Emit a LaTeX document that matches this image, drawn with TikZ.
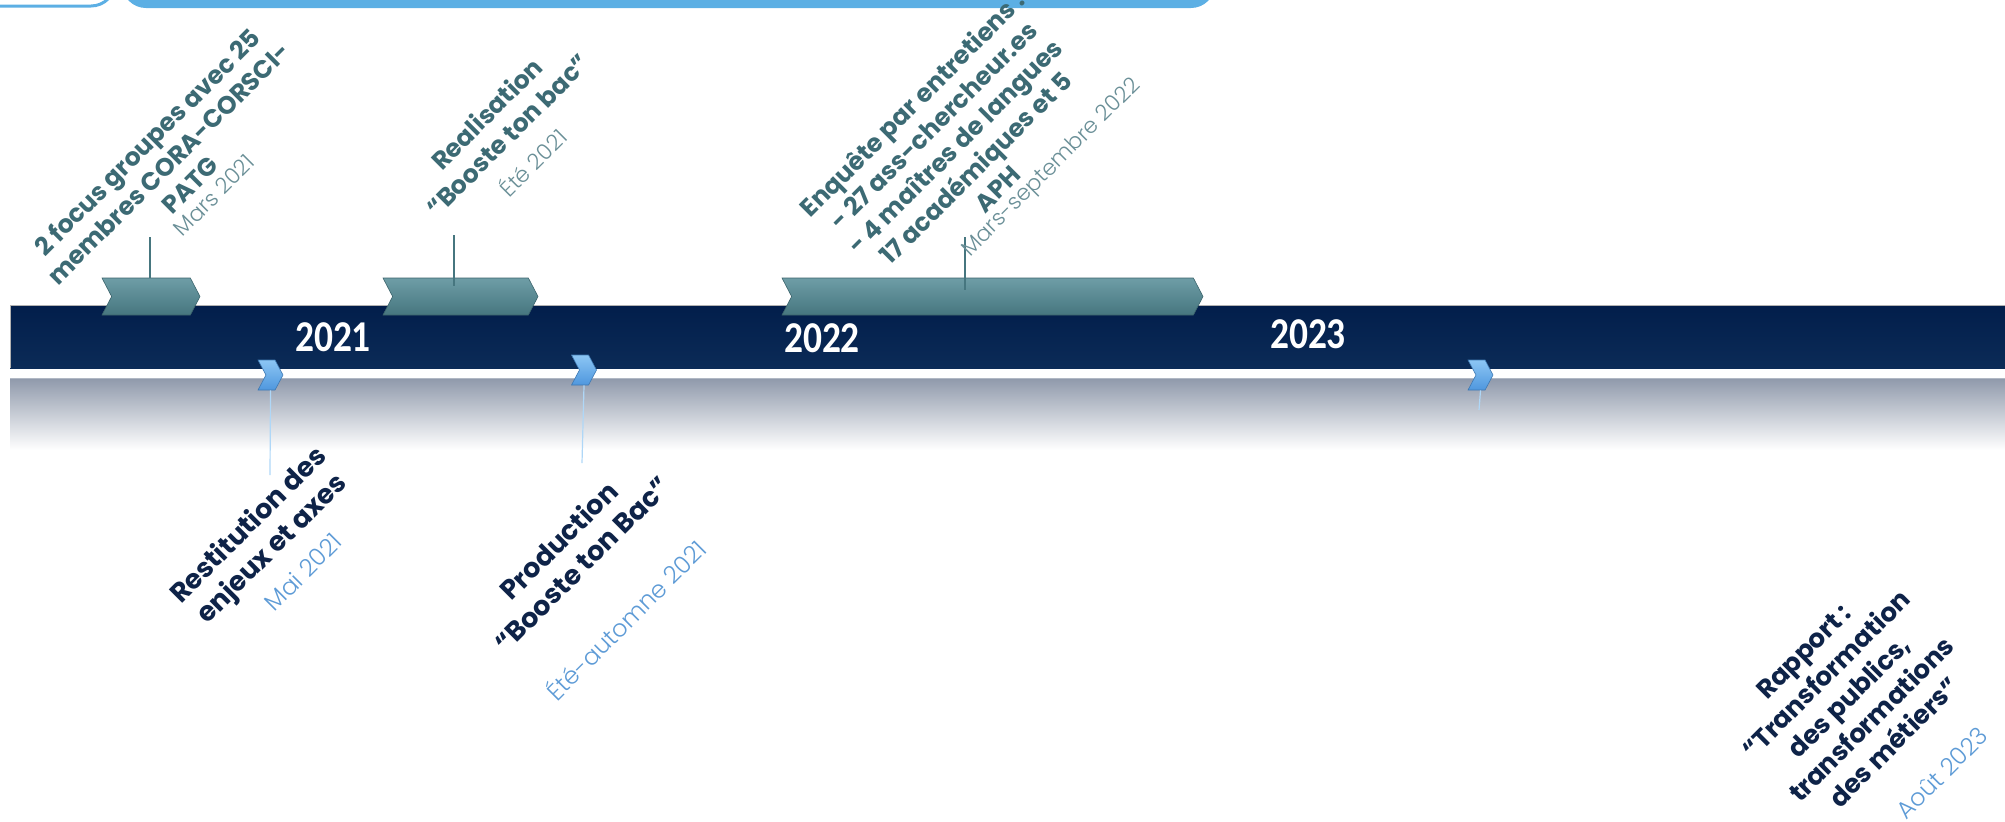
\documentclass[tikz,border=0pt]{standalone}
\usepackage{fontspec}
\setmainfont{Poppins}
\newfontfamily\lightfont{Poppins}[UprightFont={* Light}]
\newfontfamily\yearfont{Carlito}[FakeStretch=0.85]
\usetikzlibrary{shapes.symbols,positioning}

\definecolor{navytop}{HTML}{021E4B}
\definecolor{navybot}{HTML}{0B2B57}
\definecolor{tealtxt}{HTML}{3C6A74}
\definecolor{tealdate}{HTML}{6A8F97}
\definecolor{navytxt}{HTML}{0E2348}
\definecolor{bluedate}{HTML}{5E9BD6}
\definecolor{skyfill}{HTML}{5CAFE4}
\definecolor{tealhi}{HTML}{6E9DA6}
\definecolor{tealmid}{HTML}{46767F}
\definecolor{chevhi}{HTML}{8CC6F4}
\definecolor{chevlo}{HTML}{4F97DE}
\definecolor{haze}{HTML}{8F99AB}

\tikzset{
  upchev/.style={shape=signal,signal to=east,signal from=west,
    signal pointer angle=125,minimum height=18.5pt,inner sep=0pt,
    draw=tealmid!85!black,line width=0.3pt,top color=tealhi,bottom color=tealmid},
  lowchev/.style={shape=signal,signal to=east,signal from=west,
    signal pointer angle=124,minimum height=15pt,minimum width=12.5pt,inner sep=0pt,
    draw=chevlo!80!black,line width=0.3pt,top color=chevhi,bottom color=chevlo},
  upline/.style={draw=tealmid,line width=0.6pt},
  lowline/.style={draw=chevhi!70!white,line width=0.6pt},
  uplabel/.style={rotate=45,align=center,text=tealtxt,inner sep=0pt,
    font=\bfseries\fontsize{12.5}{15}\selectfont},
  update/.style={rotate=45,text=tealdate,inner sep=0pt,
    font=\lightfont\fontsize{11}{13}\selectfont},
  lowlabel/.style={rotate=45,align=center,text=navytxt,inner sep=0pt,
    font=\bfseries\fontsize{13.5}{16.5}\selectfont},
  lowdate/.style={rotate=45,text=bluedate,inner sep=0pt,
    font=\lightfont\fontsize{12}{14}\selectfont},
  year/.style={text=white,inner sep=0pt,font=\yearfont\bfseries\fontsize{22}{22}\selectfont}
}

\begin{document}
\begin{tikzpicture}[x=0.5pt,y=-0.5pt]
\useasboundingbox (0,0) rectangle (2005,821);
\clip (0,0) rectangle (2005,821);

\draw[skyfill,line width=1.5pt,rounded corners=12pt] (-60,-80) rectangle (115,6);
\fill[skyfill,rounded corners=12pt] (122,-80) rectangle (1215,8);

\shade[top color=haze,bottom color=white] (10,378) rectangle (2005,450);
\draw[haze!70!white,line width=0.4pt] (10,378) -- (2005,378);
\fill[top color=navytop,bottom color=navybot] (10,305) rectangle (2005,368);
\draw[gray!60,line width=0.4pt] (10,368) -- (10,305) -- (2005,305);

\node[year] (y21) at (333,337) {2021};
\node[year] (y22) at (822,338) {2022};
\node[year] (y23) at (1308,334) {2023};

\node[upchev,minimum width=49pt] (chevA) at (151,296.5) {};
\node[upchev,minimum width=77.5pt] (chevB) at (460.5,296.5) {};
\node[upchev,minimum width=210.5pt] (chevC) at (992.5,296.5) {};

\node[lowchev] (chevD) at (270.5,375) {};
\node[lowchev] (chevE) at (584,370) {};
\node[lowchev] (chevF) at (1480.5,375) {};

\coordinate (tipA) at (150,237);
\coordinate (tipB) at (454,235);
\coordinate (tipC) at (965,237);
\draw[upline] (tipA) -- (tipA |- chevA.north);
\draw[upline] (tipB) -- ([yshift=-4pt]tipB |- chevB.north);
\draw[upline] (tipC) -- ([yshift=-6pt]tipC |- chevC.north);

\coordinate (endD) at (270,475);
\coordinate (endE) at (582,463);
\coordinate (endF) at (1479,410);
\draw[lowline] (chevD.south) -- (endD);
\draw[lowline] (chevE.south) -- (endE);
\draw[lowline] (chevF.south) -- (endF);

\node[uplabel] (lblA) at (168,163) {2 focus groupes avec 25\\membres CORA-CORSCI-\\PATG};
\node[update] (dateA) at (214,195) {Mars 2021};
\node[uplabel] (lblB) at (497,124) {Realisation\\“Booste ton bac”};
\node[update] (dateB) at (532,162) {Été 2021};
\node[uplabel] (lblC) at (954,146) {Enquête par entretiens :\\- 27 ass-chercheur.es\\- 4 maîtres de langues\\17 académiques et 5\\APH};
\node[update] (dateC) at (1052,168) {Mars-septembre 2022};

\node[lowlabel] (lblD) at (261,538) {Restitution des\\enjeux et axes};
\node[lowdate] (dateD) at (303,572) {Mai 2021};
\node[lowlabel] (lblE) at (570,552) {Production\\“Booste ton Bac”};
\node[lowdate] (dateE) at (625,619) {Été-automne 2021};
\node[lowlabel,font=\bfseries\fontsize{13}{16}\selectfont] (lblF) at (1849,697) {Rapport :\\“Transformation\\des publics,\\transformations\\des métiers”};
\node[lowdate] (dateF) at (1942,773) {Août 2023};
\end{tikzpicture}
\end{document}
